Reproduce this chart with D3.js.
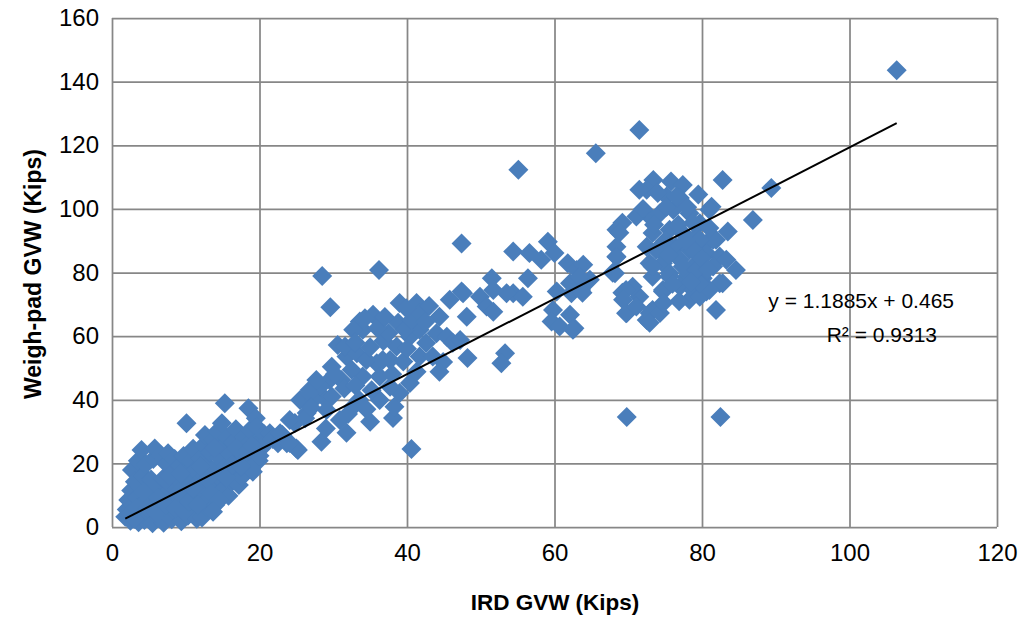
<!DOCTYPE html>
<html>
<head>
<meta charset="utf-8">
<script src="https://cdn.jsdelivr.net/npm/d3@7/dist/d3.min.js"></script>
<style>
  html, body { margin: 0; padding: 0; background: #fff; }
  svg text { font-family: "Liberation Sans", Arial, sans-serif; fill: #000; }
</style>
</head>
<body>
<svg id="chart" width="1022" height="622"></svg>
<script>
// IRD gross vehicle weight (kips) for each truck
const irdGvw = [
  // light vehicles
  1.8,2.0,2.2,2.5,2.6,2.7,2.9,3.1,3.2,3.4,3.5,3.6,3.8,4.0,4.1,4.2,4.4,4.5,4.6,
  5.0,5.1,5.3,5.5,5.6,5.8,5.9,5.9,6.2,6.4,6.6,6.7,6.9,7.0,7.2,7.4,7.6,7.7,7.9,
  8.1,8.2,8.4,8.5,8.7,8.9,9.1,9.2,9.4,9.5,9.7,10.0,10.1,10.2,10.3,10.5,10.7,10.8,
  11.0,11.2,11.3,11.5,11.7,12.0,12.2,12.3,12.4,12.6,12.6,12.8,13.0,13.1,13.3,13.5,13.7,
  14.0,14.0,14.2,14.3,14.5,14.7,14.9,15.0,15.2,15.3,15.4,15.6,15.8,
  16.0,16.2,16.4,16.6,16.8,17.0,17.2,17.4,17.6,17.8,
  18.0,18.2,18.4,18.5,18.7,18.9,19.1,19.3,19.5,19.6,19.8,19.9,
  20.3,20.6,21.0,21.4,21.8,22.5,23.1,
  2.3,3.0,3.3,4.8,6.0,6.3,7.3,7.8,8.6,9.0,9.8,10.4,11.0,11.6,11.9,12.9,13.4,13.9,
  14.6,15.5,16.3,16.9,17.5,18.3,19.0,20.0,13.7,9.3,4.3,
  // medium vehicles
  28.5,36.2,29.6,47.4,40.6,47.4,48.1,48.2,44.9,45.8,44.4,39.0,41.3,33.6,35.4,34.0,
  30.6,31.8,29.8,26.8,25.5,24.8,28.4,25.2,31.8,35.0,38.1,38.3,39.0,40.4,41.3,37.7,
  36.3,32.7,30.9,28.6,34.0,35.9,37.7,38.6,40.4,41.7,42.6,44.0,45.4,46.2,38.8,39.7,
  40.6,41.7,39.9,34.3,32.7,31.6,33.2,34.5,32.5,31.1,29.5,28.2,27.3,29.8,29.1,26.4,
  24.1,22.8,23.7,36.3,36.7,41.7,43.5,44.4,25.0,24.1,26.2,26.8,27.7,
  30.2,31.5,33.0,33.5,35.2,35.0,36.8,37.5,33.0,36.0,38.0,39.5,42.5,43.0,27.0,29.0,
  32.0,34.5,40.0,37.0,
  // heavier vehicles
  55.1,65.6,71.5,54.4,56.6,58.2,59.1,60.0,61.8,63.0,63.9,64.8,63.6,62.1,60.3,62.3,
  59.8,59.6,60.7,62.1,62.7,56.4,54.4,55.7,53.5,51.5,51.7,49.9,50.8,51.7,47.6,47.2,
  53.3,52.8,68.4,68.4,68.2,63.4,63.8,62.5,
  // fully loaded vehicles
  73.4,75.8,77.4,72.5,75.2,77.0,82.8,81.3,86.9,83.5,72.9,74.3,76.1,78.3,79.7,73.3,
  75.6,77.4,79.2,80.6,81.9,72.5,74.3,76.5,78.3,80.6,82.4,72.9,74.7,77.0,79.2,81.5,
  84.6,83.3,73.3,75.6,77.9,80.1,82.8,77.0,78.8,80.6,78.3,79.7,81.9,74.7,73.3,72.5,
  71.5,69.2,68.8,68.4,68.4,67.9,69.2,70.6,69.8,72.9,74.3,72.9,74.7,71.1,71.5,75.2,
  76.5,78.8,81.0,81.5,79.7,82.4,81.0,79.7,75.6,73.8,73.3,78.8,77.4,79.2,69.7,69.3,
  69.7,71.1,
  74.0,76.8,78.0,75.0,77.8,80.0,75.5,73.5,72.0,80.8,76.0,78.5,81.0,79.5,76.9,74.8,
  // isolated readings
  106.4,89.4,82.5,69.8
];

// Weigh-pad gross vehicle weight (kips) for the same trucks
const weighPadGvw = [
  3.2,5.5,8.5,2.0,11.5,17.9,6.8,14.2,3.1,9.3,20.8,1.5,12.6,24.2,5.4,16.3,2.2,8.1,19.7,
  11.2,3.8,14.9,1.2,21.4,24.7,6.9,9.6,12.8,3.0,22.6,7.7,15.2,1.3,10.4,19.8,23.2,5.0,13.3,
  2.4,17.0,8.6,21.4,11.7,4.1,14.6,19.4,1.8,7.2,22.3,10.1,32.6,16.4,3.5,13.0,20.5,6.2,
  24.6,9.0,17.8,2.6,14.0,21.8,3.0,11.3,25.7,28.9,16.0,6.4,19.3,8.8,23.4,13.7,27.6,
  6.9,18.0,10.6,30.1,21.9,15.1,32.6,25.3,12.0,38.9,19.0,28.2,9.8,
  22.7,14.1,26.6,17.5,30.7,20.2,13.2,24.1,15.8,28.3,
  21.5,17.2,25.9,37.3,30.5,19.8,17.4,23.6,34.2,31.5,27.0,20.8,
  24.8,29.2,26.9,29.5,27.7,26.3,28.9,
  4.0,2.5,6.0,6.0,4.5,9.0,7.0,16.0,5.8,11.0,4.8,8.0,12.2,6.8,19.0,14.9,10.5,24.8,
  8.5,15.5,19.6,24.8,19.0,23.8,25.6,22.4,4.8,16.8,11.0,
  78.9,80.8,69.1,89.1,24.5,74.0,66.1,53.1,51.9,71.4,66.1,70.4,70.4,64.6,66.7,62.0,
  57.2,53.6,50.4,43.1,39.9,32.7,26.8,24.2,29.6,33.1,34.3,37.8,42.1,45.3,48.8,44.1,
  39.9,37.8,33.6,41.0,47.3,51.5,52.5,56.7,59.8,62.0,57.8,60.9,59.8,57.9,64.2,62.0,
  65.1,67.2,68.8,65.6,62.0,56.7,54.6,52.5,49.4,46.2,46.2,44.1,39.9,41.0,36.8,35.8,
  33.6,29.5,26.3,47.3,52.5,53.6,53.6,48.8,24.7,26.4,34.2,42.1,46.2,
  48.0,43.5,44.5,40.0,43.0,56.5,58.5,61.0,58.0,62.5,48.0,52.0,64.5,69.5,37.5,31.0,
  35.5,37.0,56.0,66.0,
  112.3,117.5,124.8,86.6,86.1,84.0,89.7,86.1,82.9,80.8,82.4,77.7,74.5,76.6,74.0,73.5,
  68.2,64.6,63.0,66.7,62.5,78.2,73.5,72.4,73.5,78.2,74.5,72.4,69.3,67.7,73.5,58.8,
  54.6,51.5,93.4,85.0,79.8,78.6,73.6,62.0,
  109.1,108.6,107.5,106.0,103.9,103.4,109.1,100.7,96.5,92.9,97.6,98.6,99.7,98.6,95.5,92.4,
  93.4,92.4,91.3,89.2,90.3,88.1,87.1,88.1,87.1,86.1,85.0,82.9,82.9,84.0,82.9,81.9,
  80.8,84.0,78.7,79.8,78.7,78.2,76.6,75.6,74.5,74.0,71.4,72.4,68.2,74.0,68.2,65.1,
  72.4,95.6,92.5,88.1,84.9,79.9,73.6,75.5,67.3,67.3,67.3,64.2,74.5,97.6,106.0,100.7,
  103.9,95.6,99.7,90.3,90.3,76.6,74.5,76.6,78.7,87.1,81.9,87.1,81.9,80.8,74.5,71.4,
  67.2,69.3,
  105.0,95.0,100.5,90.0,90.0,84.5,85.5,95.0,100.0,81.0,76.5,77.0,94.0,104.5,71.0,70.5,
  143.6,106.6,34.6,34.6
];

// Linear fit reported for the data set
const slope = 1.1885;
const intercept = 0.465;
const rSquared = 0.9313;

const xTicks = [0, 20, 40, 60, 80, 100, 120];
const yTicks = [0, 20, 40, 60, 80, 100, 120, 140, 160];

const points = irdGvw.map((x, i) => ({ x, y: weighPadGvw[i] }));

const svg = d3.select("#chart");
const plot = { left: 112, right: 997, top: 18, bottom: 527 };

const x = d3.scaleLinear().domain([0, 120]).range([plot.left, plot.right]);
const y = d3.scaleLinear().domain([0, 160]).range([plot.bottom, plot.top]);

const gridColor = "#878787";
const fontFamily = "'Liberation Sans', Arial, sans-serif";

// horizontal gridlines
svg.append("g")
  .attr("transform", `translate(${plot.left},0)`)
  .call(d3.axisLeft(y).tickValues(yTicks).tickSize(-(plot.right - plot.left)).tickFormat(""))
  .call(g => g.select(".domain").remove())
  .call(g => g.selectAll("line").attr("stroke", gridColor).attr("stroke-width", 1.75));

// vertical gridlines
svg.append("g")
  .attr("transform", `translate(0,${plot.bottom})`)
  .call(d3.axisBottom(x).tickValues(xTicks).tickSize(-(plot.bottom - plot.top)).tickFormat(""))
  .call(g => g.select(".domain").remove())
  .call(g => g.selectAll("line").attr("stroke", gridColor).attr("stroke-width", 1.75));

// tick labels
const yAxis = svg.append("g")
  .attr("transform", `translate(${plot.left},0)`)
  .call(d3.axisLeft(y).tickValues(yTicks).tickSize(0).tickPadding(13));
yAxis.select(".domain").remove();
yAxis.selectAll("text").attr("font-size", 24).style("font-family", fontFamily);

const xAxis = svg.append("g")
  .attr("transform", `translate(0,${plot.bottom})`)
  .call(d3.axisBottom(x).tickValues(xTicks).tickSize(0).tickPadding(17));
xAxis.select(".domain").remove();
xAxis.selectAll("text").attr("font-size", 24).style("font-family", fontFamily);

// markers
const diamond = d3.symbol().type(d3.symbolSquare).size(200);
svg.append("g")
  .selectAll("path")
  .data(points)
  .join("path")
  .attr("d", diamond)
  .attr("transform", d => `translate(${x(d.x)},${y(d.y)}) rotate(45)`)
  .attr("fill", "#4A7EBB");

// trendline across the measured range
const [xMin, xMax] = d3.extent(irdGvw);
svg.append("line")
  .attr("x1", x(xMin)).attr("y1", y(slope * xMin + intercept))
  .attr("x2", x(xMax)).attr("y2", y(slope * xMax + intercept))
  .attr("stroke", "#000").attr("stroke-width", 2);

// fit equation
svg.append("text")
  .attr("x", 954).attr("y", 308)
  .attr("text-anchor", "end").attr("font-size", 21)
  .text(`y = ${slope}x + ${intercept}`);
svg.append("text")
  .attr("x", 937).attr("y", 342)
  .attr("text-anchor", "end").attr("font-size", 21)
  .text(`R² = ${rSquared}`);

// axis titles
svg.append("text")
  .attr("x", 555).attr("y", 610)
  .attr("text-anchor", "middle").attr("font-size", 22.5).attr("font-weight", "bold")
  .text("IRD GVW (Kips)");
svg.append("text")
  .attr("transform", "translate(41,274) rotate(-90)")
  .attr("text-anchor", "middle").attr("font-size", 23).attr("font-weight", "bold")
  .text("Weigh-pad GVW (Kips)");
</script>
</body>
</html>
